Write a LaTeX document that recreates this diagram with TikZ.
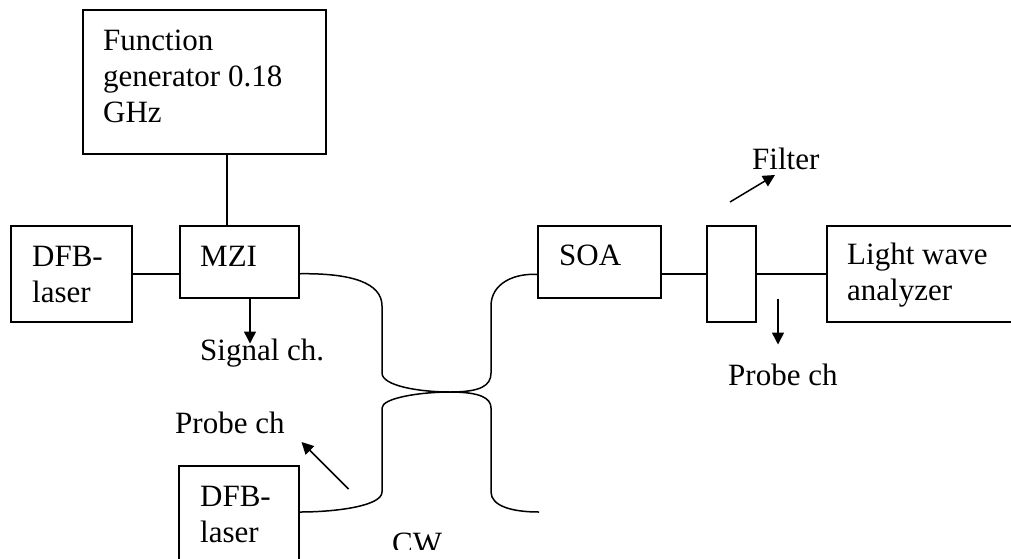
\documentclass[tikz,border=0pt]{standalone}
\usepackage{fontspec}
\setmainfont{Liberation Serif}
\usetikzlibrary{arrows.meta,calc}
\begin{document}
\begin{tikzpicture}[x=1pt,y=-1pt,
  box/.style={draw,line width=1.5pt,inner sep=0pt,anchor=north west},
  txt/.style={anchor=base west,inner sep=0pt,align=left,font=\fontsize{31}{36}\selectfont},
  fib/.style={line width=1.5pt},
  lin/.style={line width=1.5pt},
  arr/.style={line width=1.5pt,-{Triangle[length=12pt,width=12pt]}}]
\useasboundingbox (0,0) rectangle (1011,558);
% boxes
\node[box,minimum width=243pt,minimum height=144pt] (fg) at (82,9) {};
\node[box,minimum width=121pt,minimum height=96pt] (dfb1) at (10,225) {};
\node[box,minimum width=119pt,minimum height=72pt] (mzi) at (179,225) {};
\node[box,minimum width=123pt,minimum height=72pt] (soa) at (537,225) {};
\node[box,minimum width=49pt,minimum height=96pt] (filter) at (706,225) {};
\node[box,minimum width=200pt,minimum height=96pt] (lwa) at (826,225) {};
\node[box,minimum width=120pt,minimum height=110pt] (dfb2) at (178,465) {};
% texts (multi-line nodes are anchored at the baseline of their last line)
\node[txt] (fgt) at (103,122) {Function\\generator 0.18\\GHz};
\node[txt] (dfb1t) at (32,302) {DFB-\\laser};
\node[txt] (mzit) at (200,266) {MZI};
\node[txt] (sig) at (200,360) {Signal ch.};
\node[txt] (soat) at (559,265) {SOA};
\node[txt] (lwat) at (847,300) {Light wave\\analyzer};
\node[txt] (filt) at (752,169) {Filter};
\node[txt] (prr) at (728,385) {Probe ch};
\node[txt] (prl) at (175,433) {Probe ch};
\node[txt] (dfb2t) at (200,542) {DFB-\\laser};
\begin{scope}
\clip (0,0) rectangle (1011,549);
\node[txt] (cw) at (392,553) {CW};
\end{scope}
% connectors
\draw[lin] ($(mzi.north west)+(48,0)$) coordinate (m1) -- (m1 |- fg.south);
\draw[lin] (dfb1.east) -- (dfb1.east -| mzi.west);
\draw[lin] (filter.west -| soa.east) -- (filter.west);
\draw[lin] (filter.east) -- (lwa.west);
% fibre coupler
\draw[fib] (dfb1.east -| mzi.east) .. controls (352,273) and (382,283) .. (382,306)
  -- (382,373) .. controls (382,386) and (420,392) .. (450,392) coordinate (cx)
  .. controls (480,392) and (491,386) .. (491,373) -- (491,306)
  .. controls (491,283) and (515,273) .. ($(soa.south west)+(0,-24)$);
\draw[fib] ($(dfb2.north east)+(0,47)$) .. controls (336,512) and (382,506) .. (382,492)
  -- (382,408) .. controls (382,398) and (420,392) .. (cx)
  .. controls (480,392) and (491,398) .. (491,408) -- (491,492)
  .. controls (491,506) and (512,512) .. (539,512) coordinate (cwend);
% arrows
\draw[arr] ($(mzi.south west)+(71,0)$) coordinate (m2) -- ++(0,45) coordinate (m3);
\draw[arr] ($(filter.north west)+(24,-23)$) coordinate (f1) -- ++(45,-27) coordinate (f2);
\draw[arr] ($(filter.south west)+(72,-24)$) coordinate (p1) -- ++(0,46) coordinate (p2);
\draw[arr] ($(dfb2.north east)+(49,24)$) coordinate (q1) -- ++(-47,-47) coordinate (q2);
\end{tikzpicture}
\end{document}
